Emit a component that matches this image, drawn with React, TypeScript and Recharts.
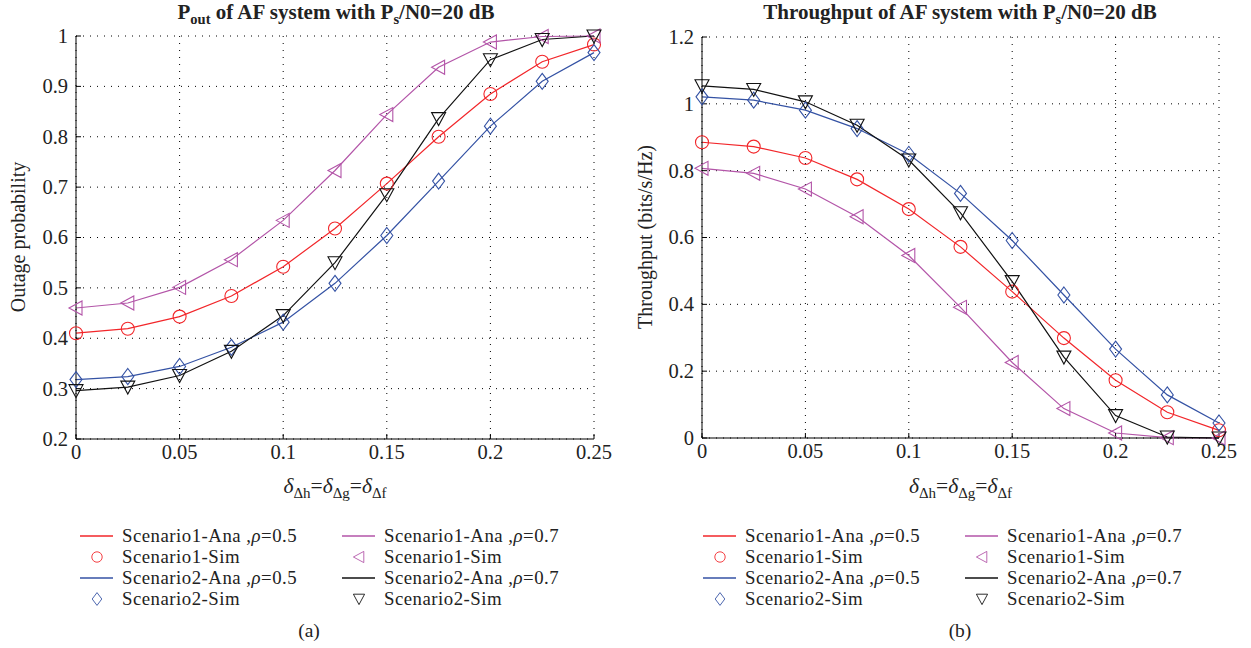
import React from 'react';
import {
  LineChart,
  Line,
  XAxis,
  YAxis,
  CartesianGrid,
} from 'recharts';

// delta values on the x axis
const deltas = [0, 0.025, 0.05, 0.075, 0.1, 0.125, 0.15, 0.175, 0.2, 0.225, 0.25];
const xTicks = [0, 0.05, 0.1, 0.15, 0.2, 0.25];

// (a) outage probability
const outS1Rho05 = [0.41, 0.419, 0.443, 0.484, 0.542, 0.618, 0.707, 0.8, 0.885, 0.949, 0.983];
const outS1Rho07 = [0.46, 0.47, 0.501, 0.556, 0.634, 0.733, 0.844, 0.938, 0.988, 0.999, 1.0];
const outS2Rho05 = [0.318, 0.324, 0.344, 0.382, 0.432, 0.509, 0.604, 0.712, 0.821, 0.91, 0.967];
const outS2Rho07 = [0.296, 0.303, 0.326, 0.374, 0.445, 0.55, 0.685, 0.836, 0.953, 0.993, 1.0];
const outTicks = [0.2, 0.3, 0.4, 0.5, 0.6, 0.7, 0.8, 0.9, 1];

// (b) throughput
const thrS1Rho05 = [0.885, 0.872, 0.838, 0.774, 0.685, 0.572, 0.438, 0.299, 0.173, 0.077, 0.023];
const thrS1Rho07 = [0.807, 0.792, 0.745, 0.662, 0.546, 0.391, 0.226, 0.088, 0.015, 0.001, 0.0];
const thrS2Rho05 = [1.021, 1.011, 0.981, 0.926, 0.849, 0.732, 0.591, 0.428, 0.266, 0.129, 0.045];
const thrS2Rho07 = [1.054, 1.043, 1.006, 0.936, 0.832, 0.674, 0.468, 0.242, 0.067, 0.003, 0.0];
const thrTicks = [0, 0.2, 0.4, 0.6, 0.8, 1, 1.2];

const legendLabels = [
  'Scenario1-Ana ,',
  'Scenario1-Sim',
  'Scenario2-Ana ,',
  'Scenario2-Sim',
];

const RED = '#f2262a';
const PINK = '#b355a8';
const BLUE = '#3452a4';
const BLACK = '#111111';
const FONT = '"Liberation Serif", "DejaVu Serif", serif';

const buildRows = (a: number[], b: number[], c: number[], d: number[]) =>
  deltas.map((x, i) => ({ x, s1a: a[i], s1b: b[i], s2a: c[i], s2b: d[i] }));

const outData = buildRows(outS1Rho05, outS1Rho07, outS2Rho05, outS2Rho07);
const thrData = buildRows(thrS1Rho05, thrS1Rho07, thrS2Rho05, thrS2Rho07);

type Kind = 'circle' | 'left' | 'diamond' | 'down';

function markerPath(kind: Kind, cx: number, cy: number) {
  switch (kind) {
    case 'left':
      return `M${cx - 7},${cy} L${cx + 6},${cy - 7} L${cx + 6},${cy + 7} Z`;
    case 'diamond':
      return `M${cx},${cy - 8} L${cx + 6},${cy} L${cx},${cy + 8} L${cx - 6},${cy} Z`;
    case 'down':
      return `M${cx - 7},${cy - 6} L${cx + 7},${cy - 6} L${cx},${cy + 7} Z`;
    default:
      return '';
  }
}

function Marker({ kind, color, cx, cy }: { kind: Kind; color: string; cx: number; cy: number }) {
  if (kind === 'circle') {
    return <circle cx={cx} cy={cy} r={6.5} fill='none' stroke={color} strokeWidth={1.1} />;
  }
  return <path d={markerPath(kind, cx, cy)} fill='none' stroke={color} strokeWidth={1.1} />;
}

const dotFor = (kind: Kind, color: string) => (props: any) => {
  const { cx, cy, index } = props;
  if (cx == null || cy == null) return <g key={index} />;
  return (
    <g key={`${kind}-${index}`}>
      <Marker kind={kind} color={color} cx={cx} cy={cy} />
    </g>
  );
};

const series: { key: string; color: string; kind: Kind }[] = [
  { key: 's1a', color: RED, kind: 'circle' },
  { key: 's1b', color: PINK, kind: 'left' },
  { key: 's2a', color: BLUE, kind: 'diamond' },
  { key: 's2b', color: BLACK, kind: 'down' },
];

// custom tick text so the serif face and size really apply
const XTick = (props: any) => (
  <text
    x={props.x}
    y={props.y}
    dy='0.75em'
    textAnchor='middle'
    fontFamily={FONT}
    fontSize={20.5}
    fill='#222'
  >
    {String(props.payload.value)}
  </text>
);

const YTick = (props: any) => (
  <text
    x={props.x}
    y={props.y}
    dy='0.34em'
    textAnchor='end'
    fontFamily={FONT}
    fontSize={20.5}
    fill='#222'
  >
    {String(props.payload.value)}
  </text>
);

function Panel({
  data,
  yTicks,
  yDomain,
  margin,
}: {
  data: any[];
  yTicks: number[];
  yDomain: [number, number];
  margin: { top: number; right: number; bottom: number; left: number };
}) {
  return (
    <LineChart width={620} height={480} data={data} margin={margin}>
      <CartesianGrid stroke='#000' strokeDasharray='1 6' strokeWidth={1} />
      <XAxis
        dataKey='x'
        type='number'
        domain={[0, 0.25]}
        ticks={xTicks}
        tick={<XTick />}
        tickSize={-5}
        tickMargin={10}
        height={30}
        stroke='#000'
        interval={0}
      />
      <XAxis
        xAxisId='top'
        orientation='top'
        dataKey='x'
        type='number'
        domain={[0, 0.25]}
        ticks={xTicks}
        tick={false}
        tickSize={-5}
        height={0}
        stroke='#000'
      />
      <YAxis
        type='number'
        domain={yDomain}
        ticks={yTicks}
        tick={<YTick />}
        tickSize={-5}
        tickMargin={13}
        width={60}
        stroke='#000'
        interval={0}
      />
      <YAxis
        yAxisId='right'
        orientation='right'
        type='number'
        domain={yDomain}
        ticks={yTicks}
        tick={false}
        tickSize={-5}
        width={0}
        stroke='#000'
      />
      {series.map(s => (
        <Line
          key={s.key}
          dataKey={s.key}
          stroke={s.color}
          strokeWidth={1.2}
          dot={dotFor(s.kind, s.color)}
          activeDot={false}
          isAnimationActive={false}
          type='linear'
        />
      ))}
    </LineChart>
  );
}

function LegendBlock({ left, top }: { left: number; top: number }) {
  const rowH = 21;
  const mid = 11;
  const cols = [
    { x: 0, rho: '0.5', items: [series[0], series[0], series[2], series[2]] },
    { x: 262, rho: '0.7', items: [series[1], series[1], series[3], series[3]] },
  ];
  return (
    <div style={{ position: 'absolute', left, top, width: 560, height: 4 * rowH }}>
      {cols.map((col, ci) =>
        col.items.map((s, ri) => {
          const isLine = ri % 2 === 0;
          return (
            <div
              key={`${ci}-${ri}`}
              style={{
                position: 'absolute',
                left: col.x,
                top: ri * rowH,
                height: rowH,
                display: 'flex',
                alignItems: 'center',
                whiteSpace: 'nowrap',
              }}
            >
              <svg width={34} height={rowH} style={{ display: 'block' }}>
                {isLine ? (
                  <line x1={0} x2={33} y1={mid} y2={mid} stroke={s.color} strokeWidth={1.4} />
                ) : (
                  <g transform={`translate(17, ${mid}) scale(0.8) translate(-17, ${-mid})`}>
                    <Marker kind={s.kind} color={s.color} cx={17} cy={mid} />
                  </g>
                )}
              </svg>
              <span
                style={{
                  marginLeft: 8,
                  fontFamily: FONT,
                  fontSize: 18.8,
                  letterSpacing: 0.5,
                  color: '#222',
                  lineHeight: `${rowH}px`,
                }}
              >
                {legendLabels[ri]}
                {isLine && (
                  <>
                    <i>ρ</i>={col.rho}
                  </>
                )}
              </span>
            </div>
          );
        })
      )}
    </div>
  );
}

function DeltaLabel() {
  const sub = { fontSize: 15, verticalAlign: 'sub' as const, lineHeight: 0 };
  return (
    <span>
      <i>δ</i>
      <span style={sub}>Δh</span>=<i>δ</i>
      <span style={sub}>Δg</span>=<i>δ</i>
      <span style={sub}>Δf</span>
    </span>
  );
}

export default function App() {
  const titleStyle: React.CSSProperties = {
    position: 'absolute',
    top: 0,
    lineHeight: '24px',
    textAlign: 'center',
    fontFamily: FONT,
    fontWeight: 'bold',
    fontSize: 21,
    color: '#222',
    whiteSpace: 'nowrap',
  };
  const subB = { fontSize: 14.5, verticalAlign: 'sub' as const, lineHeight: 0 };
  const axisTitle: React.CSSProperties = {
    position: 'absolute',
    textAlign: 'center',
    fontFamily: FONT,
    fontSize: 21.5,
    color: '#222',
    whiteSpace: 'nowrap',
  };
  const yTitle = (x: number): React.CSSProperties => ({
    position: 'absolute',
    left: x - 150,
    top: 237 - 12,
    width: 300,
    height: 24,
    lineHeight: '24px',
    textAlign: 'center',
    transform: 'rotate(-90deg)',
    fontFamily: FONT,
    fontSize: 20,
    color: '#222',
  });

  return (
    <div
      style={{
        position: 'absolute',
        left: 0,
        top: 0,
        width: 1251,
        height: 648,
        background: '#fff',
        overflow: 'hidden',
        fontFamily: FONT,
      }}
    >
      <div style={{ ...titleStyle, left: 36, width: 600 }}>
        P<span style={subB}>out</span> of AF system with P<span style={subB}>s</span>/N0=20 dB
      </div>
      <div style={{ ...titleStyle, left: 660, width: 600 }}>
        Throughput of AF system with P<span style={subB}>s</span>/N0=20 dB
      </div>

      <div style={{ position: 'absolute', left: 0, top: 0 }}>
        <Panel
          data={outData}
          yTicks={outTicks}
          yDomain={[0.2, 1]}
          margin={{ top: 36, right: 26, bottom: 11, left: 16 }}
        />
      </div>
      <div style={{ position: 'absolute', left: 630, top: 0 }}>
        <Panel
          data={thrData}
          yTicks={thrTicks}
          yDomain={[0, 1.2]}
          margin={{ top: 37, right: 31, bottom: 12, left: 12 }}
        />
      </div>

      <div style={yTitle(18)}>Outage probability</div>
      <div style={yTitle(645)}>Throughput (bits/s/Hz)</div>

      <div style={{ ...axisTitle, left: 76, width: 518, top: 474 }}>
        <DeltaLabel />
      </div>
      <div style={{ ...axisTitle, left: 702, width: 517, top: 474 }}>
        <DeltaLabel />
      </div>

      <LegendBlock left={80} top={525} />
      <LegendBlock left={703} top={525} />

      <div style={{ ...axisTitle, fontSize: 19.5, left: 259, width: 100, top: 620 }}>(a)</div>
      <div style={{ ...axisTitle, fontSize: 19.5, left: 910, width: 100, top: 620 }}>(b)</div>
    </div>
  );
}
